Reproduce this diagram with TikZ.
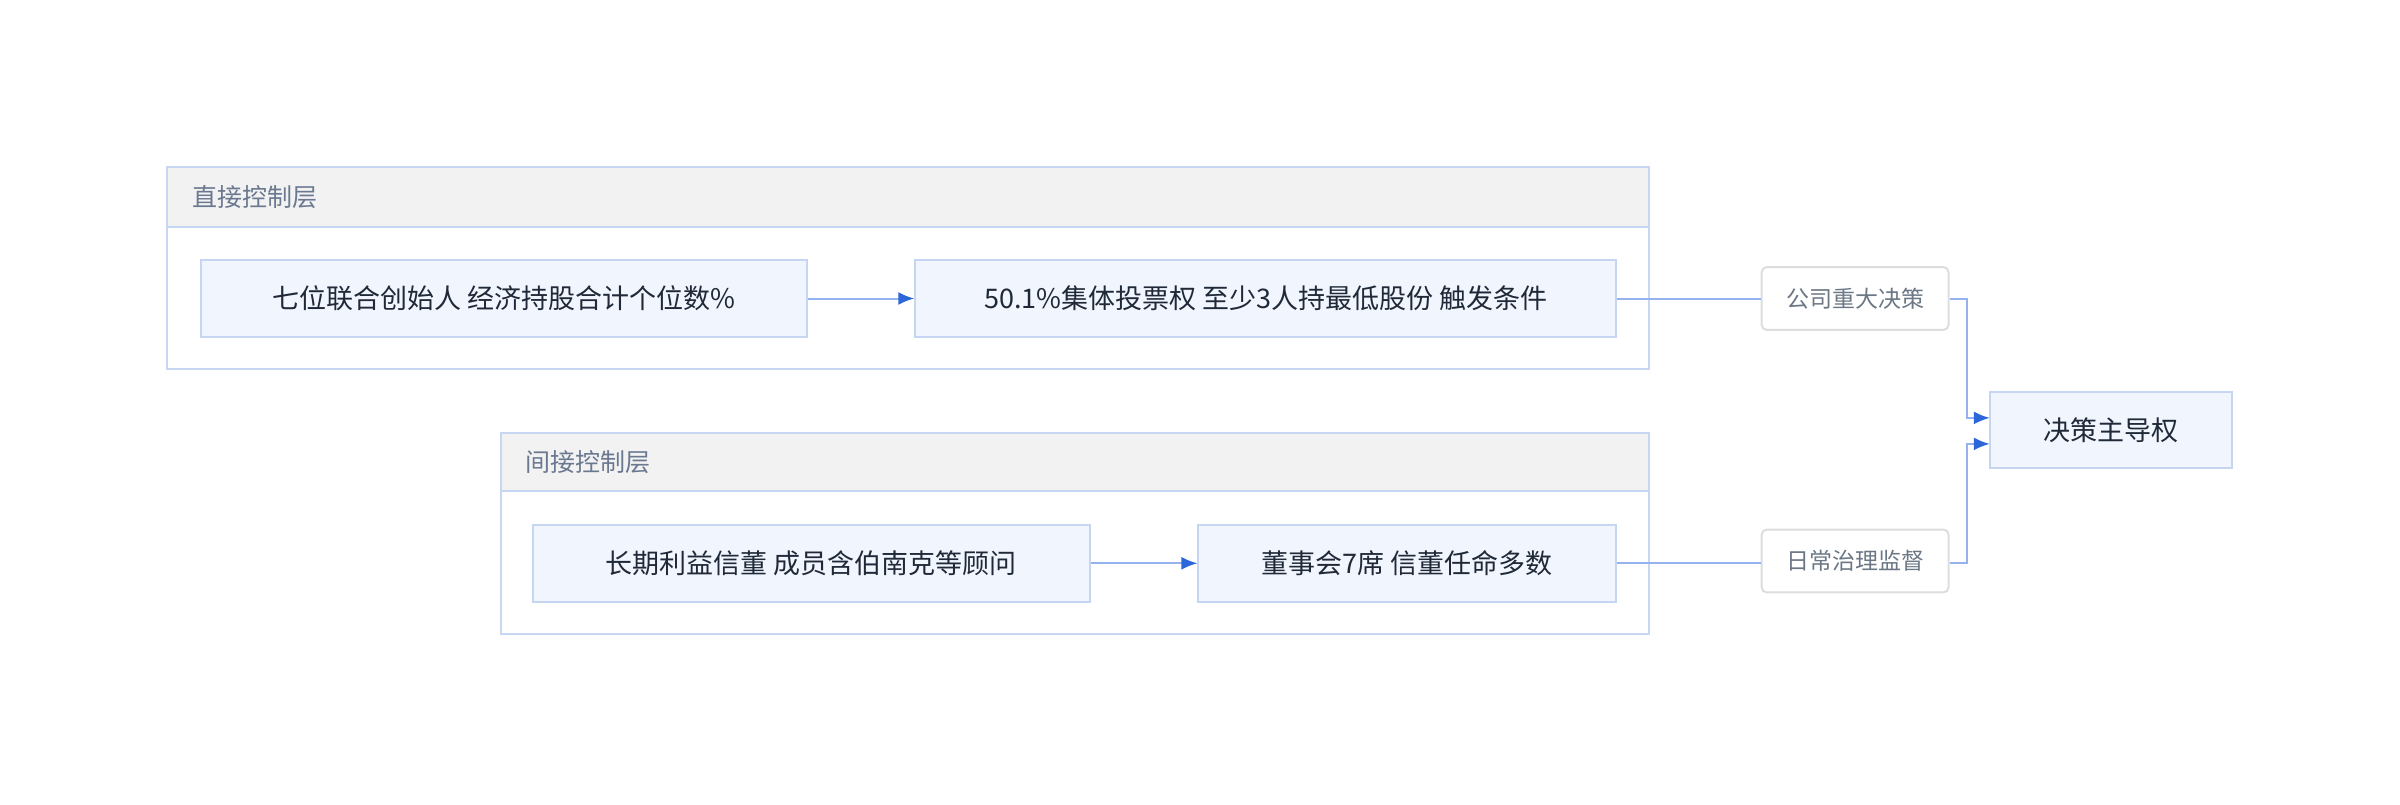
\documentclass[tikz,border=0pt]{standalone}
\usepackage{fontspec}
\setmainfont{Noto Sans CJK SC}
\usetikzlibrary{arrows.meta}
\definecolor{nodefill}{HTML}{F0F5FE}
\definecolor{nodeline}{HTML}{C6D5F2}
\definecolor{grpline}{HTML}{C8D7F1}
\definecolor{headfill}{HTML}{F2F2F2}
\definecolor{headtext}{HTML}{6A7890}
\definecolor{maintext}{HTML}{1F2937}
\definecolor{tagline}{HTML}{DDDDDD}
\definecolor{tagtext}{HTML}{6B7785}
\definecolor{wire}{HTML}{94B3EE}
\definecolor{tipblue}{HTML}{2D66D8}
\tikzset{
  box/.style={draw=nodeline, fill=nodefill, line width=1pt, text=maintext, font=\fontsize{13.5}{16}\selectfont, minimum height=38.3pt, inner sep=0pt},
  tag/.style={draw=tagline, fill=white, line width=1pt, rounded corners=2.5pt, text=tagtext, font=\fontsize{11.5}{14}\selectfont, minimum width=93.4pt, minimum height=31.4pt, inner sep=0pt},
  grp/.style={draw=grpline, line width=1pt},
  head/.style={text=headtext, font=\fontsize{12.5}{15}\selectfont, anchor=west, inner sep=0pt},
  wire/.style={draw=wire, line width=1pt},
  flow/.style={wire, -{Latex[length=8pt, width=6.5pt, color=tipblue]}}
}
\begin{document}
\begin{tikzpicture}[x=0.5pt, y=-0.5pt]
\useasboundingbox (0,0) rectangle (2400,804);
% control layers
\draw[grp] (166.8,166.8) rectangle (1648.5,368.9);
\draw[grp, fill=headfill] (166.8,166.8) rectangle (1648.5,226.5);
\node[head] (h1) at (192,197) {直接控制层};
\draw[grp] (500.5,433.2) rectangle (1648.5,633.7);
\draw[grp, fill=headfill] (500.5,433.2) rectangle (1648.5,491.3);
\node[head] (h2) at (525,462) {间接控制层};
% nodes
\node[box, minimum width=303pt] (founders) at (503.5,298.5) {七位联合创始人 经济持股合计个位数\%};
\node[box, minimum width=350.5pt] (vote) at (1265.8,298.5) {50.1\%集体投票权 至少3人持最低股份 触发条件};
\node[box, minimum width=278.6pt] (trust) at (811.2,563.3) {长期利益信董 成员含伯南克等顾问};
\node[box, minimum width=209pt] (board) at (1407.4,563.3) {董事会7席 信董任命多数};
\node[tag] (major) at (1855.1,298.5) {公司重大决策};
\node[tag] (daily) at (1855.1,561) {日常治理监督};
\node[box, minimum width=120.9pt] (lead) at (2110.7,430.1) {决策主导权};
\coordinate (in1) at (1989.8,417.9);
\coordinate (in2) at (1989.8,443.9);
% connectors
\draw[flow] (founders) -- (vote);
\draw[flow] (trust) -- (board);
\draw[wire] (vote) -- (major);
\draw[wire] (board.east) -- (daily.west |- board.east);
\draw[flow] (major.east) -- ++(17,0) |- (in1);
\draw[flow] (daily.east |- board.east) -- ++(17,0) |- (in2);
\end{tikzpicture}
\end{document}
